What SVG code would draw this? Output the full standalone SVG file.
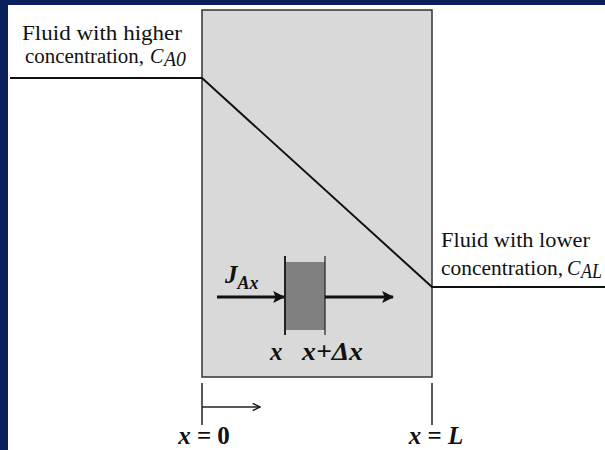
<svg xmlns="http://www.w3.org/2000/svg" width="605" height="450" viewBox="0 0 605 450">
<style>
.t{font-family:"Liberation Serif","Times New Roman",serif;font-size:20px;fill:#111}
.i{font-style:italic}
.b{font-family:"Liberation Serif","Times New Roman",serif;font-weight:bold;font-size:25px;fill:#111}
.ln{stroke:#111;stroke-width:2;fill:none}
</style>
<defs>
<marker id="ah" viewBox="0 0 10 10" refX="9" refY="5" markerWidth="4" markerHeight="4" orient="auto" markerUnits="strokeWidth"><path d="M0,0 L10,5 L0,10 L2,5 Z" fill="#111"/></marker>
<marker id="ah2" viewBox="0 0 10 10" refX="9" refY="5" markerWidth="6" markerHeight="6" orient="auto" markerUnits="strokeWidth"><path d="M1,1 L9,5 L1,9" fill="none" stroke="#111" stroke-width="1.5"/></marker>
</defs>
<rect x="0" y="0" width="605" height="450" fill="#fff"/>
<rect x="0" y="0" width="605" height="5" fill="#0a1f5c"/>
<rect x="0" y="0" width="8" height="450" fill="#0a1f5c"/>
<g id="slab">
<rect x="202" y="10" width="230" height="367" fill="#d9d9d9" stroke="#333" stroke-width="1.5"/>
</g>
<g id="element">
<rect x="285" y="262" width="40" height="68" fill="#808080"/>
<line x1="285" y1="256" x2="285" y2="335" stroke="#222" stroke-width="2"/>
<line x1="325" y1="256" x2="325" y2="335" stroke="#222" stroke-width="1.2"/>
</g>
<g id="connectors">
<polyline points="10,78 202,78 432,287 605,287" class="ln"/>
<line x1="217" y1="297" x2="284" y2="297" stroke="#111" stroke-width="3" marker-end="url(#ah)"/>
<line x1="325" y1="297" x2="393" y2="297" stroke="#111" stroke-width="3" marker-end="url(#ah)"/>
<line x1="202" y1="383" x2="202" y2="425" stroke="#222" stroke-width="1.5"/>
<line x1="432" y1="383" x2="432" y2="425" stroke="#222" stroke-width="1.5"/>
<line x1="202" y1="407" x2="260" y2="407" stroke="#222" stroke-width="1.5" marker-end="url(#ah2)"/>
</g>
<g id="labels">
<text class="t" x="22" y="40" textLength="160" lengthAdjust="spacingAndGlyphs">Fluid with higher</text>
<text class="t" x="25" y="63" textLength="119" lengthAdjust="spacingAndGlyphs">concentration,</text>
<text class="t i" x="150" y="63" font-size="21">C</text>
<text class="t i" x="164" y="66" font-size="13" textLength="22" lengthAdjust="spacingAndGlyphs">A0</text>
<text class="t" x="441" y="247" textLength="149" lengthAdjust="spacingAndGlyphs">Fluid with lower</text>
<text class="t" x="441" y="275" textLength="122" lengthAdjust="spacingAndGlyphs">concentration,</text>
<text class="t i" x="567" y="275" font-size="21">C</text>
<text class="t i" x="581" y="278" font-size="13" textLength="21" lengthAdjust="spacingAndGlyphs">AL</text>
<text class="b" x="225" y="283" font-style="italic" font-size="22">J<tspan font-size="18" dy="6">Ax</tspan></text>
<text class="b" x="270" y="360" font-style="italic" font-size="26">x</text>
<text class="b" x="302" y="360" font-style="italic" font-size="26" textLength="61" lengthAdjust="spacingAndGlyphs">x+Δx</text>
<text class="b" x="204" y="444" text-anchor="middle"><tspan font-style="italic">x</tspan> = 0</text>
<text class="b" x="436" y="444" text-anchor="middle"><tspan font-style="italic">x</tspan> = <tspan font-style="italic">L</tspan></text>
</g>
</svg>
